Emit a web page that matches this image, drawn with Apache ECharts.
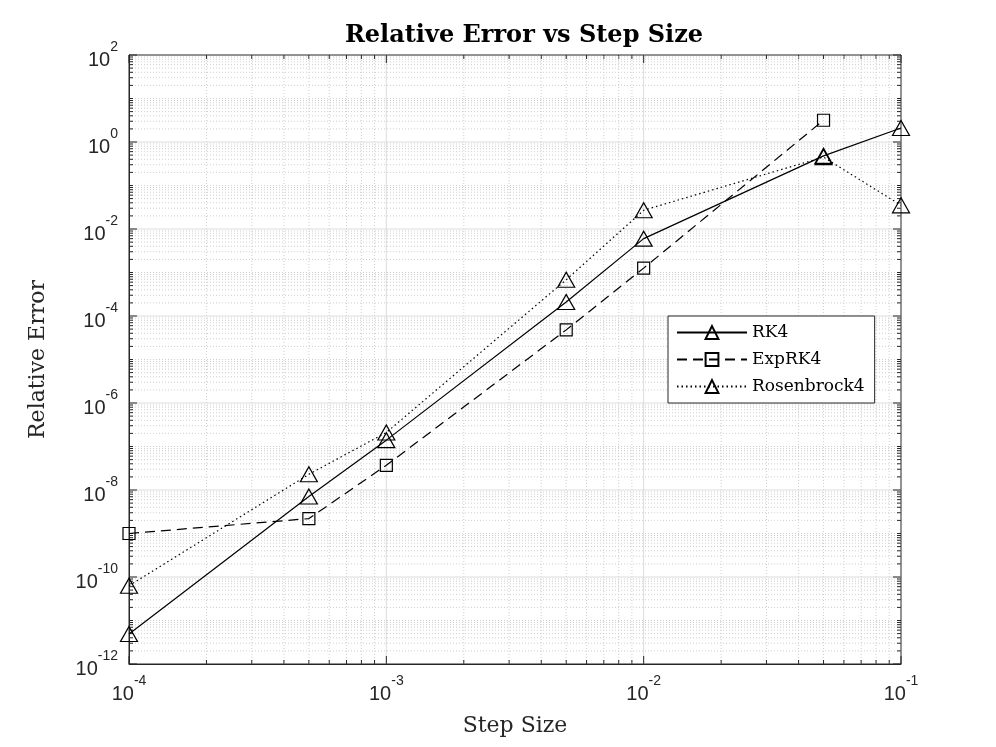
<!DOCTYPE html>
<html>
<head>
<meta charset="utf-8">
<script src="https://cdn.jsdelivr.net/npm/echarts@6/dist/echarts.min.js"></script>
<style>
  html, body { margin: 0; padding: 0; background: #fff; }
  #chart { width: 996px; height: 747px; }
</style>
</head>
<body>
<div id="chart"></div>
<script>
// step sizes and relative errors
const stepSizes = [1e-4, 5e-4, 1e-3, 5e-3, 1e-2, 5e-2, 1e-1];
const rk4 = [4.9e-12, 7.1e-9, 1.4e-7, 2.1e-4, 6.0e-3, 0.48, 2.1];
const expRk4 = [1.0e-9, 2.2e-9, 3.7e-8, 4.8e-5, 1.26e-3, 3.16];
const rosenbrock4 = [6.3e-11, 2.3e-8, 2.1e-7, 6.8e-4, 0.027, 0.45, 0.035];

const serif = '"DejaVu Serif", "Liberation Serif", serif';
const sans = '"Liberation Sans", Arial, sans-serif';

function pairs(xs, ys) {
  return ys.map((y, i) => [xs[i], y]);
}

// grid lines and inside ticks, MATLAB style (major solid, minor dotted)
function renderGrid(params, api) {
  const children = [];
  const xMin = 1e-4, xMax = 1e-1, yMin = 1e-12, yMax = 1e2;
  const major = { stroke: '#dcdcdc', lineWidth: 1 };
  const minor = { stroke: '#cfcfcf', lineWidth: 1, lineDash: [1, 2] };
  const tickStyle = { stroke: '#262626', lineWidth: 1 };
  const line = (a, b, style) => children.push({
    type: 'line', shape: { x1: a[0], y1: a[1], x2: b[0], y2: b[1] }, style: style, silent: true
  });

  // x direction
  for (let e = -4; e <= -1; e++) {
    for (let k = 1; k <= 9; k++) {
      const v = k * Math.pow(10, e);
      if (v > xMax * 1.0001) break;
      const isMajor = k === 1;
      const p1 = api.coord([v, yMin]);
      const p2 = api.coord([v, yMax]);
      if (v > xMin * 1.0001 && v < xMax * 0.9999) line(p1, p2, isMajor ? major : minor);
      const len = isMajor ? 8 : 4;
      line(p1, [p1[0], p1[1] - len], tickStyle);
      line(p2, [p2[0], p2[1] + len], tickStyle);
    }
  }
  // y direction
  for (let e = -12; e <= 2; e++) {
    for (let k = 1; k <= 9; k++) {
      const v = k * Math.pow(10, e);
      if (v > yMax * 1.0001) break;
      const isMajor = k === 1 && e % 2 === 0;
      const p1 = api.coord([xMin, v]);
      const p2 = api.coord([xMax, v]);
      if (v > yMin * 1.0001 && v < yMax * 0.9999) line(p1, p2, isMajor ? major : minor);
      const len = isMajor ? 8 : 4;
      line(p1, [p1[0] + len, p1[1]], tickStyle);
      line(p2, [p2[0] - len, p2[1]], tickStyle);
    }
  }
  return { type: 'group', children: children };
}

const powLabel = v => {
  const e = Math.round(Math.log10(v));
  return '{b|10}{s|' + e + '}';
};

const labelRich = {
  b: { fontFamily: sans, fontSize: 20, color: '#262626', verticalAlign: 'bottom', lineHeight: 30 },
  s: { fontFamily: sans, fontSize: 14, color: '#262626', verticalAlign: 'top', lineHeight: 30 }
};

const markerStyle = { color: 'rgba(255,255,255,0)', borderColor: '#000', borderWidth: 1.2 };

const chart = echarts.init(document.getElementById('chart'));
chart.setOption({
  animation: false,
  backgroundColor: '#fff',
  title: {
    text: 'Relative Error vs Step Size',
    left: 519, top: 19, textAlign: 'center',
    textStyle: { fontFamily: serif, fontSize: 24, fontWeight: 'bold', color: '#000' }
  },
  grid: {
    left: 129, right: 95, top: 55, bottom: 83,
    show: true, borderColor: '#262626', borderWidth: 1, backgroundColor: '#fff'
  },
  xAxis: {
    type: 'log', logBase: 10, min: 1e-4, max: 1e-1, interval: 1,
    name: 'Step Size', nameLocation: 'middle', nameGap: 51,
    nameTextStyle: { fontFamily: serif, fontSize: 22, color: '#262626' },
    axisLine: { show: true, lineStyle: { color: '#262626' } },
    axisTick: { show: false },
    splitLine: { show: false },
    axisLabel: { formatter: powLabel, rich: labelRich, fontFamily: sans, margin: 10, interval: 0, hideOverlap: false }
  },
  yAxis: {
    type: 'log', logBase: 10, min: 1e-12, max: 1e2, interval: 2,
    name: 'Relative Error', nameLocation: 'middle', nameGap: 80,
    nameTextStyle: { fontFamily: serif, fontSize: 22, color: '#262626' },
    axisLine: { show: true, lineStyle: { color: '#262626' } },
    axisTick: { show: false },
    splitLine: { show: false },
    axisLabel: { formatter: powLabel, rich: labelRich, fontFamily: sans, margin: 11, interval: 0, hideOverlap: false }
  },
  legend: {
    orient: 'vertical', left: 668, top: 316,
    itemWidth: 70, itemHeight: 16, itemGap: 10,
    padding: [8, 10, 8, 8],
    backgroundColor: '#fff', borderColor: '#262626', borderWidth: 1,
    textStyle: { fontFamily: serif, fontSize: 17, color: '#000' },
    data: ['RK4', 'ExpRK4', 'Rosenbrock4']
  },
  series: [
    {
      type: 'custom', name: 'grid', silent: true, z: 0,
      renderItem: renderGrid, data: [[1e-4, 1e-12]]
    },
    {
      name: 'RK4', type: 'line', z: 3,
      data: pairs(stepSizes, rk4),
      symbol: 'triangle', symbolSize: [17, 15],
      lineStyle: { color: '#000', width: 1.2, type: 'solid' },
      itemStyle: markerStyle
    },
    {
      name: 'ExpRK4', type: 'line', z: 3,
      data: pairs(stepSizes, expRk4),
      symbol: 'rect', symbolSize: 12,
      lineStyle: { color: '#000', width: 1.2, type: [10, 6] },
      itemStyle: markerStyle
    },
    {
      name: 'Rosenbrock4', type: 'line', z: 3,
      data: pairs(stepSizes, rosenbrock4),
      symbol: 'triangle', symbolSize: [17, 15],
      lineStyle: { color: '#000', width: 1.2, type: [1.5, 3] },
      itemStyle: markerStyle
    }
  ]
});
</script>
</body>
</html>
